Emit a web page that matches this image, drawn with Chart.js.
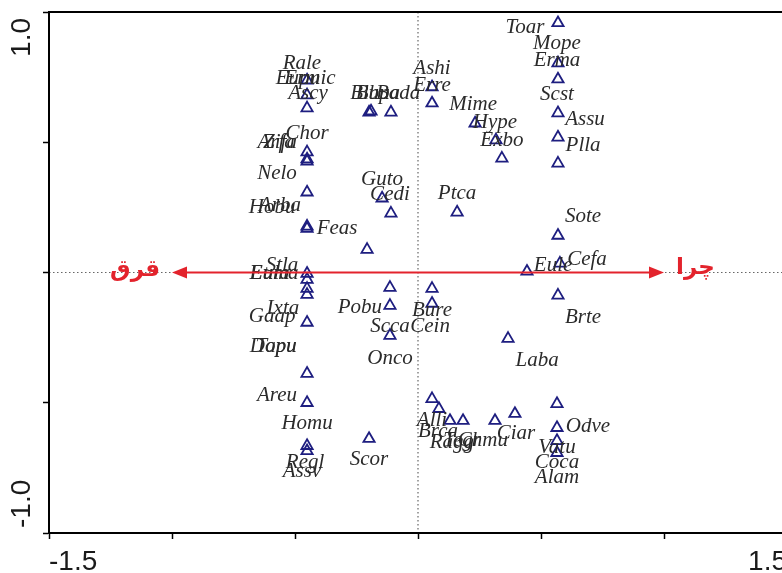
<!DOCTYPE html>
<html>
<head>
<meta charset="utf-8">
<script src="https://cdn.jsdelivr.net/npm/chart.js@4.4.0/dist/chart.umd.min.js"></script>
<style>
  html, body { margin: 0; padding: 0; overflow: hidden; background: #fff; }
  #wrap { position: relative; width: 800px; height: 590px; }
</style>
</head>
<body>
<div id="wrap"><canvas id="ordination"></canvas></div>
<script>
// Species scores (triangles), axis 1 / axis 2
let speciesX = [-0.451, -0.451, -0.451, -0.199, -0.191, -0.110, 0.057, 0.057, 0.232, 0.317, 0.341,
  0.569, 0.569, 0.569, 0.569, 0.569, 0.569, -0.451, -0.451, -0.451, -0.451, -0.146, -0.110, 0.159,
  -0.451, -0.451, -0.207, 0.569, 0.577, 0.443, 0.569, 0.366, -0.451, -0.451, -0.451, -0.451, -0.451,
  -0.451, -0.114, -0.114, -0.114, 0.057, 0.057, -0.451, -0.451, -0.451, -0.199, 0.057, 0.085, 0.130,
  0.183, 0.313, 0.394, 0.565, 0.565, 0.565, 0.565];
let speciesY = [0.738, 0.681, 0.631, 0.615, 0.619, 0.615, 0.712, 0.650, 0.573, 0.508, 0.438,
  0.958, 0.804, 0.742, 0.612, 0.519, 0.419, 0.462, 0.435, 0.427, 0.308, 0.285, 0.227, 0.231,
  0.177, 0.169, 0.088, 0.142, 0.035, 0.004, -0.088, -0.254, -0.004, -0.027, -0.062, -0.085, -0.192,
  -0.388, -0.058, -0.127, -0.242, -0.062, -0.119, -0.500, -0.665, -0.685, -0.638, -0.485, -0.523, -0.569,
  -0.569, -0.569, -0.542, -0.504, -0.596, -0.646, -0.692];

// Species labels and where they sit on the plot
let labelNames = ['Rale', 'Eupu', 'Ermic', 'Ascy', 'Blbu', 'Bupa', 'Bada', 'Ashi', 'Erre', 'Mime',
  'Chor', 'Arfa', 'Zifa', 'Nelo', 'Guto', 'Cedi', 'Ptca', 'Hobu', 'Arba', 'Feas',
  'Toar', 'Mope', 'Erma', 'Scst', 'Assu', 'Hype', 'Exbo', 'Plla', 'Sote', 'Eule', 'Cefa', 'Brte', 'Laba',
  'Stla', 'Eula', 'Euma', 'Ixta', 'Gaap', 'Pobu', 'Bure', 'Scca', 'Cein', 'Dopu', 'Tapu', 'Onco',
  'Areu', 'Homu', 'Regl', 'Assv', 'Scor', 'Alli', 'Brca', 'Ragg', 'Tegr', 'Chmu', 'Ciar',
  'Odve', 'Vatu', 'Coca', 'Alam'];
let labelX = [-0.472, -0.488, -0.439, -0.447, -0.195, -0.163, -0.081, 0.057, 0.057, 0.224,
  -0.451, -0.577, -0.561, -0.573, -0.146, -0.114, 0.159, -0.593, -0.561, -0.329,
  0.435, 0.565, 0.565, 0.565, 0.679, 0.313, 0.341, 0.671, 0.671, 0.549, 0.687, 0.671, 0.484,
  -0.553, -0.602, -0.585, -0.549, -0.593, -0.236, 0.057, -0.114, 0.049, -0.589, -0.577, -0.114,
  -0.573, -0.451, -0.459, -0.472, -0.199, 0.057, 0.081, 0.138, 0.179, 0.264, 0.398,
  0.691, 0.565, 0.565, 0.565];
let labelY = [0.804, 0.746, 0.746, 0.688, 0.688, 0.688, 0.688, 0.785, 0.719, 0.646,
  0.535, 0.500, 0.500, 0.381, 0.358, 0.300, 0.304, 0.250, 0.258, 0.169,
  0.942, 0.881, 0.812, 0.685, 0.588, 0.577, 0.508, 0.488, 0.215, 0.027, 0.050, -0.173, -0.338,
  0.027, -0.004, -0.004, -0.138, -0.169, -0.135, -0.146, -0.208, -0.208, -0.285, -0.285, -0.331,
  -0.473, -0.581, -0.731, -0.762, -0.719, -0.569, -0.612, -0.654, -0.646, -0.646, -0.619,
  -0.592, -0.673, -0.731, -0.785];

// Environmental variables (arrows from the origin)
let envNames = ['چرا', 'قرق'];
let envX = [1.0, -1.0];
let envY = [0, 0];

// Axis tick labels
let xTickLabels = [-1.5, 1.5];
let yTickLabels = [-1.0, 1.0];

let points = speciesX.map((x, i) => ({ x: x, y: speciesY[i] }));

let biplotPlugin = {
  id: 'biplot',
  beforeDatasetsDraw(chart) {
    let ctx = chart.ctx;
    let area = chart.chartArea;
    let xs = chart.scales.x;
    let ys = chart.scales.y;
    let x0 = xs.getPixelForValue(0);
    let y0 = ys.getPixelForValue(0);
    ctx.save();
    ctx.strokeStyle = '#666';
    ctx.lineWidth = 1.2;
    ctx.setLineDash([1.5, 2.5]);
    ctx.beginPath();
    ctx.moveTo(area.left, y0);
    ctx.lineTo(area.right, y0);
    ctx.moveTo(x0, area.top);
    ctx.lineTo(x0, area.bottom);
    ctx.stroke();
    ctx.restore();
  },
  afterDatasetsDraw(chart) {
    let ctx = chart.ctx;
    let xs = chart.scales.x;
    let ys = chart.scales.y;
    let ox = xs.getPixelForValue(0);
    let oy = ys.getPixelForValue(0);

    // species labels
    ctx.save();
    ctx.font = 'italic 21px "Liberation Serif", "Times New Roman", serif';
    ctx.fillStyle = '#2b2b2b';
    ctx.textAlign = 'center';
    ctx.textBaseline = 'middle';
    labelNames.forEach((name, i) => {
      ctx.fillText(name, xs.getPixelForValue(labelX[i]), ys.getPixelForValue(labelY[i]));
    });
    ctx.restore();

    // arrows
    ctx.save();
    ctx.strokeStyle = '#e3232c';
    ctx.fillStyle = '#e3232c';
    ctx.lineWidth = 2;
    envNames.forEach((name, i) => {
      let tx = xs.getPixelForValue(envX[i]);
      let ty = ys.getPixelForValue(envY[i]);
      let ang = Math.atan2(ty - oy, tx - ox);
      ctx.beginPath();
      ctx.moveTo(ox, oy);
      ctx.lineTo(tx - Math.cos(ang) * 8, ty - Math.sin(ang) * 8);
      ctx.stroke();
      ctx.beginPath();
      ctx.moveTo(tx, ty);
      ctx.lineTo(tx - Math.cos(ang) * 15 - Math.sin(ang) * 6, ty - Math.sin(ang) * 15 + Math.cos(ang) * 6);
      ctx.lineTo(tx - Math.cos(ang) * 15 + Math.sin(ang) * 6, ty - Math.sin(ang) * 15 - Math.cos(ang) * 6);
      ctx.closePath();
      ctx.fill();
      ctx.font = 'bold 23px "DejaVu Sans", sans-serif';
      ctx.textBaseline = 'middle';
      if (envX[i] >= 0) {
        ctx.textAlign = 'left';
        ctx.fillText(name, tx + 12, ty - 4);
      } else {
        ctx.textAlign = 'right';
        ctx.fillText(name, tx - 12, ty - 2);
      }
    });
    ctx.restore();
  },
  afterDraw(chart) {
    let ctx = chart.ctx;
    let area = chart.chartArea;
    let xs = chart.scales.x;
    let ys = chart.scales.y;
    ctx.save();
    ctx.strokeStyle = '#000';
    ctx.lineWidth = 2;
    ctx.strokeRect(area.left, area.top, area.right - area.left, area.bottom - area.top);

    // tick labels
    ctx.fillStyle = '#1a1a1a';
    ctx.font = '28px "Liberation Sans", Arial, sans-serif';
    ctx.textBaseline = 'top';
    xTickLabels.forEach((v, i) => {
      ctx.textAlign = i === 0 ? 'left' : 'right';
      ctx.fillText(v.toFixed(1), xs.getPixelForValue(v), area.bottom + 15);
    });
    yTickLabels.forEach((v, i) => {
      ctx.save();
      ctx.translate(22, ys.getPixelForValue(v));
      ctx.rotate(-Math.PI / 2);
      ctx.textBaseline = 'middle';
      if (i === 0) {
        ctx.textAlign = 'left';
        ctx.fillText(v.toFixed(1), 5, 0);
      } else {
        ctx.textAlign = 'right';
        ctx.fillText(v.toFixed(1), -6, 0);
      }
      ctx.restore();
    });
    ctx.restore();
  }
};

let ordinationChart = new Chart(document.getElementById('ordination').getContext('2d'), {
  type: 'scatter',
  data: {
    datasets: [{
      label: 'Species',
      data: points,
      pointStyle: 'triangle',
      pointRadius: 6.5,
      pointBorderWidth: 1.8,
      borderColor: '#1e1e80',
      backgroundColor: 'rgba(0, 0, 0, 0)'
    }]
  },
  options: {
    responsive: true,
    maintainAspectRatio: false,
    animation: false,
    layout: { padding: { top: 12, right: 13, left: 0, bottom: 0 } },
    plugins: {
      legend: { display: false },
      tooltip: { enabled: false }
    },
    scales: {
      x: {
        type: 'linear',
        min: -1.5,
        max: 1.5,
        ticks: { stepSize: 0.5, display: false },
        grid: { drawOnChartArea: false, tickLength: 6, tickWidth: 1.5, color: '#000' },
        border: { display: true, color: '#000', width: 2 },
        afterFit: (scale) => { scale.height = 57; }
      },
      y: {
        type: 'linear',
        min: -1.0,
        max: 1.0,
        ticks: { stepSize: 0.5, display: false },
        grid: { drawOnChartArea: false, tickLength: 6, tickWidth: 1.5, color: '#000' },
        border: { display: true, color: '#000', width: 2 },
        afterFit: (scale) => { scale.width = 49; }
      }
    }
  },
  plugins: [biplotPlugin]
});
</script>
</body>
</html>
